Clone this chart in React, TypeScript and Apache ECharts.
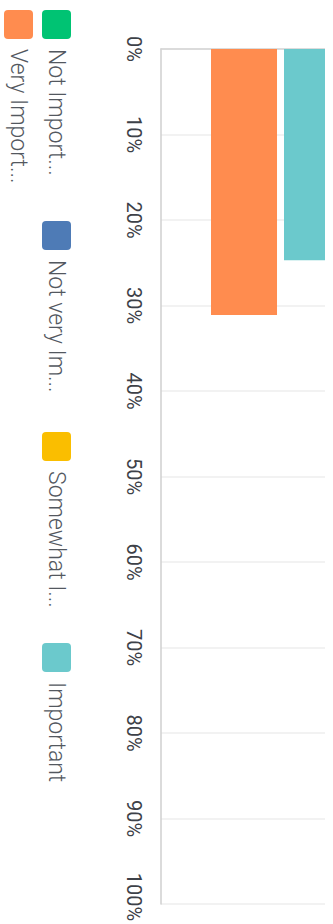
import React, { useEffect, useRef } from "react";
import * as echarts from "echarts";

// Survey answers, one group of bars (values in percent)
const categories = ["Importance"];
const seriesNames = [
  "Very Important",
  "Important",
  "Somewhat Important",
  "Not very Important",
  "Not Important",
];
const veryImportant = [31.1];
const important = [24.7];
const somewhatImportant = [0];
const notVeryImportant = [0];
const notImportant = [0];
const seriesValues = [veryImportant, important, somewhatImportant, notVeryImportant, notImportant];
const seriesColors = ["#FF8C4F", "#6BC9CC", "#FABE00", "#4E7BB6", "#00C373"];

// Legend rows (series names) and the shortened captions shown beside the swatches
const legendRows = [
  ["Not Important", "Not very Important", "Somewhat Important", "Important"],
  ["Very Important"],
];
const legendCaptions: Record<string, string> = {
  "Not Important": "Not Import...",
  "Not very Important": "Not very Im...",
  "Somewhat Important": "Somewhat I...",
  Important: "Important",
  "Very Important": "Very Import...",
};
const valueTicks = [0, 100, 10]; // min, max, interval

const FONT = "Roboto, 'Noto Sans', sans-serif";

export default function App() {
  const ref = useRef<HTMLDivElement>(null);

  useEffect(() => {
    if (!ref.current) return;
    const chart = echarts.init(ref.current, undefined, { renderer: "svg" });

    const colorOf = (name: string) => seriesColors[seriesNames.indexOf(name)];

    // Legend drawn as a group turned a quarter clockwise
    const ICON = 29;
    const ITEM_STEP = 211;
    const ROW_STEP = 38;
    const legendChildren: any[] = [];
    legendRows.forEach((row, r) => {
      row.forEach((name, i) => {
        const lx = i * ITEM_STEP;
        const ly = r * ROW_STEP;
        legendChildren.push({
          type: "rect",
          shape: { x: lx, y: ly, width: ICON, height: ICON, r: 4 },
          style: { fill: colorOf(name) },
        });
        legendChildren.push({
          type: "text",
          x: lx + ICON + 10,
          y: ly + ICON / 2,
          style: {
            text: legendCaptions[name],
            fill: "#53585f",
            font: `300 23px ${FONT}`,
            verticalAlign: "middle",
            align: "left",
          },
        });
      });
    });

    const maxTick = valueTicks[1];

    chart.setOption({
      animation: false,
      grid: {
        left: 161,
        top: 49,
        width: 458,
        height: 855,
        containLabel: false,
        outerBoundsMode: "none",
      },
      xAxis: {
        type: "category",
        position: "top",
        data: categories,
        axisLine: { show: true, lineStyle: { color: "#d4d4d4", width: 1.5 } },
        axisTick: { show: false },
        axisLabel: { show: false },
        splitLine: { show: false },
      },
      yAxis: {
        type: "value",
        inverse: true,
        min: valueTicks[0],
        max: valueTicks[1],
        interval: valueTicks[2],
        axisLine: { show: true, lineStyle: { color: "#cfcfcf", width: 1.5 } },
        axisTick: { show: false },
        axisLabel: {
          rotate: -90,
          margin: 17,
          // the last label is nudged inward so it stays on the page
          formatter: (v: number) => (v === maxTick ? `{end|${v}%}` : `${v}%`),
          rich: {
            end: {
              padding: [0, 14, 0, 0],
              color: "#3d4148",
              fontSize: 20,
              fontFamily: FONT,
            },
          },
          color: "#3d4148",
          fontSize: 20,
          fontFamily: FONT,
        },
        splitLine: { lineStyle: { color: "#eeeeee", width: 1.5 } },
      },
      series: seriesNames.map((name, i) => ({
        type: "bar",
        name,
        data: seriesValues[i],
        barWidth: 66,
        barGap: "10.6%",
        itemStyle: { color: seriesColors[i] },
      })),
      graphic: [
        {
          type: "group",
          x: 71,
          y: 10,
          rotation: -Math.PI / 2,
          children: legendChildren,
        },
      ],
    });

    return () => chart.dispose();
  }, []);

  return (
    <div
      style={{
        position: "absolute",
        left: 0,
        top: 0,
        width: 325,
        height: 924,
        overflow: "hidden",
        background: "#ffffff",
      }}
    >
      <div ref={ref} style={{ width: 640, height: 924 }} />
    </div>
  );
}
